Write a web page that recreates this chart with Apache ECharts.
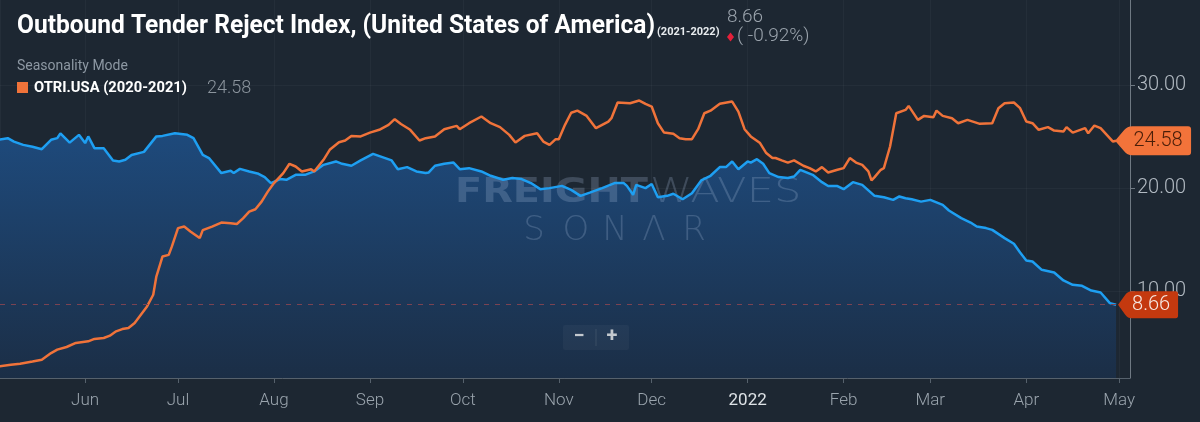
<!DOCTYPE html>
<html><head><meta charset="utf-8">
<script src="https://cdn.jsdelivr.net/npm/echarts@6/dist/echarts.min.js"></script>
<style>html,body{margin:0;padding:0;background:#1d2732;}#c{width:1200px;height:422px;}</style>
</head><body><div id="c"></div>
<script>
// OTRI.USA (2021-2022) — blue, shaded
const blueDates = ['2021-05-04','2021-05-07','2021-05-09','2021-05-12','2021-05-15','2021-05-18','2021-05-21','2021-05-23','2021-05-24','2021-05-27','2021-05-30','2021-06-01','2021-06-02','2021-06-04','2021-06-07','2021-06-10','2021-06-12','2021-06-14','2021-06-16','2021-06-20','2021-06-24','2021-06-26','2021-06-30','2021-07-04','2021-07-06','2021-07-09','2021-07-11','2021-07-15','2021-07-18','2021-07-19','2021-07-21','2021-07-24','2021-07-27','2021-07-29','2021-07-31','2021-08-03','2021-08-05','2021-08-08','2021-08-11','2021-08-14','2021-08-17','2021-08-21','2021-08-23','2021-08-26','2021-08-29','2021-09-02','2021-09-05','2021-09-08','2021-09-10','2021-09-13','2021-09-16','2021-09-19','2021-09-20','2021-09-22','2021-09-25','2021-09-28','2021-09-30','2021-10-03','2021-10-07','2021-10-10','2021-10-14','2021-10-17','2021-10-20','2021-10-23','2021-10-26','2021-10-29','2021-11-02','2021-11-05','2021-11-08','2021-11-11','2021-11-15','2021-11-19','2021-11-22','2021-11-23','2021-11-25','2021-11-26','2021-11-29','2021-12-01','2021-12-03','2021-12-06','2021-12-08','2021-12-11','2021-12-14','2021-12-17','2021-12-20','2021-12-23','2021-12-25','2021-12-27','2021-12-29','2022-01-01','2022-01-02','2022-01-04','2022-01-06','2022-01-08','2022-01-11','2022-01-14','2022-01-16','2022-01-18','2022-01-22','2022-01-25','2022-01-27','2022-01-30','2022-02-01','2022-02-04','2022-02-07','2022-02-11','2022-02-14','2022-02-17','2022-02-19','2022-02-21','2022-02-23','2022-02-26','2022-03-01','2022-03-05','2022-03-07','2022-03-11','2022-03-14','2022-03-16','2022-03-19','2022-03-21','2022-03-25','2022-03-28','2022-03-30','2022-04-01','2022-04-03','2022-04-06','2022-04-10','2022-04-13','2022-04-16','2022-04-19','2022-04-22','2022-04-25','2022-04-28','2022-04-30'];
const blueValues = [24.67,24.83,24.5,24.18,24.0,23.76,24.67,24.83,25.3,24.4,25.15,24.35,25.0,23.86,23.86,22.67,22.57,22.73,23.2,23.5,25.0,25.05,25.3,25.15,24.83,23.2,22.9,21.44,21.66,21.44,21.85,21.6,21.37,21.05,20.47,20.86,20.79,21.27,21.27,21.6,22.24,22.57,22.34,22.15,22.67,23.3,22.99,22.67,21.82,22.02,21.6,21.44,21.5,22.15,22.34,22.46,21.82,21.92,21.6,21.18,20.79,20.96,20.86,20.47,19.88,19.98,20.2,19.81,19.23,19.55,19.98,20.47,20.47,20.2,19.33,20.3,19.98,20.38,19.1,19.23,19.43,18.9,19.49,20.73,21.18,22.02,22.02,22.57,21.82,22.57,22.46,22.79,22.34,21.44,21.05,20.96,21.11,21.76,21.27,20.56,20.18,20.18,19.88,20.56,20.3,19.23,19.1,18.84,19.17,19.0,18.9,18.67,18.84,18.36,17.81,17.07,16.64,16.25,16.1,15.93,15.13,14.58,13.73,12.96,12.86,12.05,11.79,11.02,10.6,10.5,10.04,9.85,8.82,8.66];
// OTRI.USA (2020-2021) — orange, seasonality overlay
const orangeDates = ['2021-05-04','2021-05-08','2021-05-11','2021-05-15','2021-05-18','2021-05-21','2021-05-23','2021-05-26','2021-05-29','2021-06-02','2021-06-04','2021-06-07','2021-06-09','2021-06-11','2021-06-13','2021-06-15','2021-06-17','2021-06-19','2021-06-21','2021-06-23','2021-06-24','2021-06-26','2021-06-28','2021-06-29','2021-07-01','2021-07-03','2021-07-05','2021-07-08','2021-07-09','2021-07-12','2021-07-15','2021-07-18','2021-07-20','2021-07-22','2021-07-24','2021-07-26','2021-07-28','2021-07-30','2021-08-01','2021-08-04','2021-08-06','2021-08-08','2021-08-10','2021-08-13','2021-08-14','2021-08-17','2021-08-19','2021-08-22','2021-08-24','2021-08-26','2021-08-29','2021-09-01','2021-09-04','2021-09-07','2021-09-09','2021-09-11','2021-09-14','2021-09-17','2021-09-19','2021-09-22','2021-09-25','2021-09-29','2021-09-30','2021-10-03','2021-10-07','2021-10-10','2021-10-13','2021-10-16','2021-10-18','2021-10-21','2021-10-25','2021-10-27','2021-10-29','2021-10-31','2021-11-01','2021-11-03','2021-11-05','2021-11-07','2021-11-10','2021-11-13','2021-11-17','2021-11-18','2021-11-20','2021-11-24','2021-11-27','2021-11-29','2021-12-01','2021-12-03','2021-12-05','2021-12-08','2021-12-10','2021-12-12','2021-12-14','2021-12-16','2021-12-18','2021-12-20','2021-12-23','2021-12-27','2021-12-29','2021-12-31','2022-01-02','2022-01-05','2022-01-07','2022-01-09','2022-01-10','2022-01-12','2022-01-14','2022-01-16','2022-01-19','2022-01-21','2022-01-23','2022-01-25','2022-01-27','2022-01-30','2022-02-01','2022-02-03','2022-02-05','2022-02-07','2022-02-09','2022-02-10','2022-02-11','2022-02-13','2022-02-14','2022-02-16','2022-02-18','2022-02-21','2022-02-22','2022-02-25','2022-02-27','2022-03-02','2022-03-03','2022-03-05','2022-03-08','2022-03-10','2022-03-13','2022-03-17','2022-03-21','2022-03-23','2022-03-25','2022-03-28','2022-03-30','2022-04-01','2022-04-03','2022-04-05','2022-04-08','2022-04-10','2022-04-13','2022-04-14','2022-04-16','2022-04-20','2022-04-21','2022-04-23','2022-04-25','2022-04-27','2022-04-29','2022-04-30'];
const orangeValues = [2.68,2.84,2.94,3.16,3.33,3.97,4.3,4.56,4.95,5.11,5.34,5.43,5.66,6.08,6.3,6.4,6.89,7.7,8.5,9.63,11.4,13.35,13.5,14.3,16.1,16.25,15.77,15.13,15.9,16.25,16.64,16.57,16.5,17.05,17.7,17.93,18.67,19.64,20.47,21.44,22.34,22.08,21.6,21.82,21.6,22.73,23.7,24.44,24.6,25.05,25.0,25.37,25.64,26.12,26.67,26.2,25.64,24.6,24.83,25.0,25.7,26.02,25.7,26.28,26.93,26.28,25.9,25.15,24.41,25.05,25.3,24.5,24.18,24.73,24.73,26.12,27.3,27.5,26.99,25.8,26.44,26.77,28.29,28.22,28.48,28.16,27.9,26.28,25.37,25.25,24.83,24.73,24.73,25.7,27.25,27.5,28.16,28.38,27.41,25.7,25.0,24.35,23.38,22.9,22.9,22.67,22.46,22.67,22.15,21.92,21.6,22.02,21.5,21.76,21.92,22.9,22.46,22.24,21.6,20.73,21.05,21.76,21.92,24.02,27.25,27.57,27.96,26.6,26.99,26.86,27.5,26.99,26.77,26.28,26.6,26.22,26.28,27.74,28.22,28.29,27.74,26.44,26.28,25.64,25.9,25.57,25.47,25.9,25.37,25.8,25.3,26.05,25.8,25.15,24.5,24.58];
const yTickValues = [10, 20, 30];
const monthNames = ['Jan','Feb','Mar','Apr','May','Jun','Jul','Aug','Sep','Oct','Nov','Dec'];
const titleText = 'Outbound Tender Reject Index, (United States of America)';
const titleRange = '(2021-2022)';
const legendName = 'OTRI.USA (2020-2021)';
const headerValue = 8.66;
const headerChange = '( -0.92%)';

const pair = (ds, vs) => ds.map((d, i) => [d, vs[i]]);
const tagPath = 'path://M0,15 L9,4 Q12,0 17,0 L72,0 Q75,0 75,3 L75,27 Q75,30 72,30 L17,30 Q12,30 9,26 Z';
const lastB = blueValues[blueValues.length - 1];
const lastO = orangeValues[orangeValues.length - 1];

// condensed look: measure text and squeeze horizontally
const mctx = document.createElement('canvas').getContext('2d');
function fitScale(text, font, width) { mctx.font = font; return width / mctx.measureText(text).width; }
const TITLE_FONT = 'bold 25px Roboto';
const titleScale = fitScale(titleText, TITLE_FONT, 638);
const LEG_FONT = 'bold 15px Roboto';
const legScale = fitScale(legendName, LEG_FONT, 153);

const chart = echarts.init(document.getElementById('c'), null, {renderer: 'canvas'});
const WM = 'rgba(170,192,220,0.24)';
const sonarLetters = [['S', 534], ['O', 576], ['N', 615], ['Λ', 654], ['R', 694]];

chart.setOption({
  backgroundColor: '#1d2732',
  animation: false,
  grid: {left: 0, right: 70, top: 0, bottom: 44, outerBoundsMode: 'none'},
  xAxis: {
    type: 'time',
    min: new Date(2021, 4, 4, 12).getTime(),
    max: new Date(2022, 4, 4, 12).getTime(),
    minInterval: 28 * 864e5, maxInterval: 31 * 864e5,
    axisLine: {show: true, lineStyle: {color: '#56616c'}},
    axisTick: {show: true, length: 5, lineStyle: {color: '#56616c'}},
    axisLabel: {
      color: '#9aa4ad', fontSize: 17, fontFamily: 'Roboto', fontWeight: 300, margin: 14,
      showMinLabel: false, showMaxLabel: false,
      formatter: v => { const d = new Date(v); return d.getMonth() === 0 ? '{y|' + d.getFullYear() + '}' : monthNames[d.getMonth()]; },
      rich: {y: {color: '#dde2e6', fontSize: 17, fontFamily: 'Roboto', fontWeight: 400}}
    },
    splitLine: {show: true, lineStyle: {color: 'rgba(255,255,255,0.035)'}}
  },
  yAxis: {
    type: 'value', position: 'right', min: 1.55, max: 38.24,
    axisLine: {show: true, lineStyle: {color: '#6f7983'}},
    axisTick: {show: true, length: 5, customValues: yTickValues, lineStyle: {color: '#6f7983'}},
    axisLabel: {customValues: yTickValues, formatter: v => Number(v).toFixed(2), color: '#b2bac2', fontSize: 20, fontFamily: 'Roboto', fontWeight: 300, margin: 7},
    splitLine: {show: true, lineStyle: {color: 'rgba(255,255,255,0.035)'}}
  },
  series: [
    {
      name: 'OTRI.USA (2021-2022) area', type: 'line', data: pair(blueDates, blueValues),
      showSymbol: false, z: 1, silent: true,
      lineStyle: {width: 0}, itemStyle: {color: '#1e9ff2'},
      areaStyle: {opacity: 1, color: new echarts.graphic.LinearGradient(0, 0, 0, 1, [
        {offset: 0, color: '#1e4a7c'}, {offset: 1, color: '#1b2e46'}])}
    },
    {
      name: 'OTRI.USA (2021-2022)', type: 'line', data: pair(blueDates, blueValues),
      showSymbol: false, z: 3,
      lineStyle: {color: '#1e9ff2', width: 2.5}, itemStyle: {color: '#1e9ff2'},
      markLine: {silent: true, symbol: 'none', label: {show: false},
        lineStyle: {color: '#7a4352', type: [5, 6], width: 1},
        data: [{yAxis: lastB}]},
      markPoint: {silent: true, symbol: tagPath, symbolSize: [60, 27], symbolOffset: [32, 0],
        itemStyle: {color: '#c4390f'},
        label: {show: true, formatter: p => Number(p.value).toFixed(2), color: '#f6e8e2', fontSize: 20, fontFamily: 'Roboto', fontWeight: 300, offset: [3, 0]},
        data: [{coord: [blueDates[blueDates.length - 1], lastB], value: lastB}]}
    },
    {
      name: legendName, type: 'line', data: pair(orangeDates, orangeValues),
      showSymbol: false, z: 4,
      lineStyle: {color: '#f0733a', width: 2.5}, itemStyle: {color: '#f0733a'},
      markPoint: {silent: true, symbol: tagPath, symbolSize: [76, 29], symbolOffset: [37, 0],
        itemStyle: {color: '#f2733a'},
        label: {show: true, formatter: p => Number(p.value).toFixed(2), color: '#4a1e08', fontSize: 20, fontFamily: 'Roboto', fontWeight: 300, offset: [5, 0]},
        data: [{coord: [orangeDates[orangeDates.length - 1], lastO], value: lastO}]}
    }
  ],
  graphic: [
    // title
    {type: 'text', x: 17, y: 27, scaleX: titleScale, silent: true, z: 10, style: {text: titleText, font: TITLE_FONT, fill: '#ffffff', verticalAlign: 'middle'}},
    {type: 'text', x: 657, y: 32, silent: true, z: 10, style: {text: titleRange, font: 'bold 11px Roboto', fill: '#e8ecef', verticalAlign: 'middle'}},
    {type: 'text', x: 727, y: 17, silent: true, z: 10, style: {text: headerValue.toFixed(2), font: '300 19px Roboto', fill: '#9aa3ac', verticalAlign: 'middle'}},
    {type: 'polygon', silent: true, z: 10, shape: {points: [[727, 37], [730.5, 32.5], [734, 37], [730.5, 41.5]]}, style: {fill: '#e5203a'}},
    {type: 'text', x: 737, y: 36, silent: true, z: 10, style: {text: headerChange, font: '300 19px Roboto', fill: '#9aa3ac', verticalAlign: 'middle'}},
    // legend block
    {type: 'text', x: 17, y: 66, silent: true, z: 10, style: {text: 'Seasonality Mode', font: '14px Roboto', fill: '#8d98a3', verticalAlign: 'middle'}},
    {type: 'rect', silent: true, z: 10, shape: {x: 17, y: 82, width: 11, height: 11}, style: {fill: '#f0733a'}},
    {type: 'text', x: 34, y: 88, scaleX: legScale, silent: true, z: 10, style: {text: legendName, font: LEG_FONT, fill: '#ffffff', verticalAlign: 'middle'}},
    {type: 'text', x: 207, y: 88, silent: true, z: 10, style: {text: lastO.toFixed(2), font: '300 18px Roboto', fill: '#8b949d', verticalAlign: 'middle'}},
    // watermark (between area and lines)
    {type: 'text', x: 455, y: 193, scaleX: 1.17, silent: true, z: 2, style: {text: 'FREIGHT', font: 'bold 34px "DejaVu Sans"', fill: WM, verticalAlign: 'middle'}},
    {type: 'text', x: 650, y: 193, scaleX: 1.27, silent: true, z: 2, style: {text: 'WAVES', font: '200 34px "DejaVu Sans"', fill: WM, verticalAlign: 'middle'}},
    ...sonarLetters.map(([ch, cx]) => ({type: 'text', x: cx, y: 231, silent: true, z: 2, style: {text: ch, font: '200 34px "DejaVu Sans"', fill: WM, align: 'center', verticalAlign: 'middle'}})),
    // zoom buttons
    {type: 'rect', silent: true, z: 10, shape: {x: 563, y: 325, width: 66, height: 25, r: 2}, style: {fill: 'rgba(255,255,255,0.035)'}},
    {type: 'line', silent: true, z: 10, shape: {x1: 596, y1: 329, x2: 596, y2: 346}, style: {stroke: 'rgba(255,255,255,0.1)', lineWidth: 1}},
    {type: 'text', x: 579, y: 337, silent: true, z: 10, style: {text: '−', font: 'bold 20px Roboto', fill: '#c3c9cf', align: 'center', verticalAlign: 'middle'}},
    {type: 'text', x: 612, y: 337, silent: true, z: 10, style: {text: '+', font: 'bold 20px Roboto', fill: '#c3c9cf', align: 'center', verticalAlign: 'middle'}}
  ]
});
</script></body></html>
